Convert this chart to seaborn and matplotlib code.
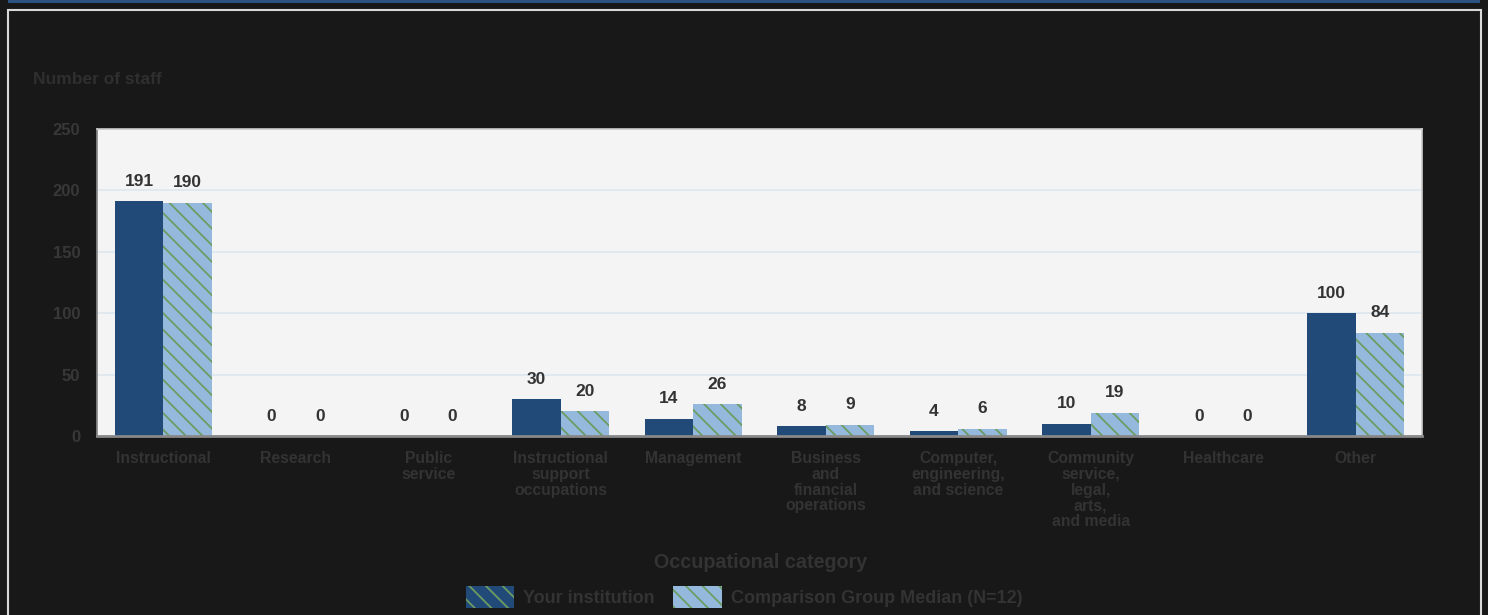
import pandas as pd
import matplotlib.pyplot as plt
import seaborn as sns
from matplotlib.patches import Rectangle, Patch

# data
categories = ["Instructional", "Research", "Public\nservice",
              "Instructional\nsupport\noccupations", "Management",
              "Business\nand\nfinancial\noperations",
              "Computer,\nengineering,\nand science",
              "Community\nservice,\nlegal,\narts,\nand media",
              "Healthcare", "Other"]
your_institution = [191, 0, 0, 30, 14, 8, 4, 10, 0, 100]
comparison_median = [190, 0, 0, 20, 26, 9, 6, 19, 0, 84]
series_names = ["Your institution", "Comparison Group Median (N=12)"]

df = pd.DataFrame({
    "category": categories * 2,
    "staff": your_institution + comparison_median,
    "group": [series_names[0]] * len(categories) + [series_names[1]] * len(categories),
})

sns.set_theme(style="white")
plt.rcParams["font.family"] = ["Liberation Sans", "DejaVu Sans"]
plt.rcParams["hatch.linewidth"] = 1.3

dark_blue = "#224a78"
light_blue = "#95b9dd"
hatch_green = "#6c9c62"
text_col = "#333333"
bg = "#181818"

fig = plt.figure(figsize=(14.88, 6.15), dpi=100, facecolor=bg)
ax = fig.add_axes([0.0652, 0.291, 0.8904, 0.4992])

sns.barplot(data=df, x="category", y="staff", hue="group",
            palette=[dark_blue, light_blue], width=0.73, gap=0,
            saturation=1, legend=False, ax=ax)

# hatch the comparison bars
n = len(categories)
for i, p in enumerate(ax.patches[:2 * n]):
    if i >= n:
        p.set_hatch("\\\\")
        p.set_edgecolor(hatch_green)
        p.set_linewidth(0)
    else:
        p.set_edgecolor(dark_blue)
        p.set_linewidth(0)

for cont in ax.containers:
    ax.bar_label(cont, padding=9, fontsize=12.5, fontweight="bold", color=text_col)

ax.set_facecolor("#f4f4f4")
ax.set_ylim(0, 250)
ax.set_xlim(-0.5, n - 0.5)
ax.set_yticks([0, 50, 100, 150, 200, 250])
ax.yaxis.grid(True, color="#dce6f0", linewidth=1.2)
ax.set_axisbelow(True)
ax.tick_params(axis="y", length=0, labelsize=12, labelcolor="#383838", pad=12)
for t in ax.get_yticklabels():
    t.set_fontweight("bold")

# ticks at category boundaries, labels at centers
ax.set_xticks([i - 0.5 for i in range(n + 1)])
ax.set_xticklabels([])
ax.set_xticks(range(n), minor=True)
ax.set_xticklabels(categories, minor=True, fontsize=11.3, fontweight="bold",
                   color="#333333", linespacing=1.05, va="top")
ax.tick_params(axis="x", which="major", length=7, width=1.5, color="#888888", direction="out")
ax.tick_params(axis="x", which="minor", length=0, pad=11)

for s in ["top", "right"]:
    ax.spines[s].set_color("#cccccc")
    ax.spines[s].set_linewidth(1.2)
ax.spines["left"].set_color("#888888")
ax.spines["bottom"].set_color("#888888")
ax.spines["bottom"].set_linewidth(2)

ax.set_xlabel("")
ax.set_ylabel("")

fig.text(0.0222, 0.8715, "Number of staff", fontsize=12.5, fontweight="bold",
         color="#2f2f2f", va="center", ha="left")
fig.text(0.511, 0.0846, "Occupational category", fontsize=14.2, fontweight="bold",
         color=text_col, va="center", ha="center")

handles = [Patch(facecolor=dark_blue, edgecolor=hatch_green, hatch="\\\\", linewidth=0),
           Patch(facecolor=light_blue, edgecolor=hatch_green, hatch="\\\\", linewidth=0)]
leg = fig.legend(handles, series_names, loc="center", bbox_to_anchor=(0.5, 0.029),
                 ncol=2, frameon=False, handlelength=2.7, handleheight=1.5,
                 columnspacing=1.0, handletextpad=0.5,
                 prop={"weight": "bold", "size": 13})
for t in leg.get_texts():
    t.set_color(text_col)

# frame and top strip
fig.patches.append(Rectangle((8 / 1488, -0.01), 1473 / 1488, 1 - 10 / 615 + 0.01,
                             transform=fig.transFigure, fill=False,
                             edgecolor="#d8d8d8", linewidth=1.5))
fig.patches.append(Rectangle((8 / 1488, 1 - 3 / 615), 1472 / 1488, 3 / 615,
                             transform=fig.transFigure, facecolor="#2c5282",
                             edgecolor="none"))

fig.savefig("out.png", dpi=100, facecolor=bg)
